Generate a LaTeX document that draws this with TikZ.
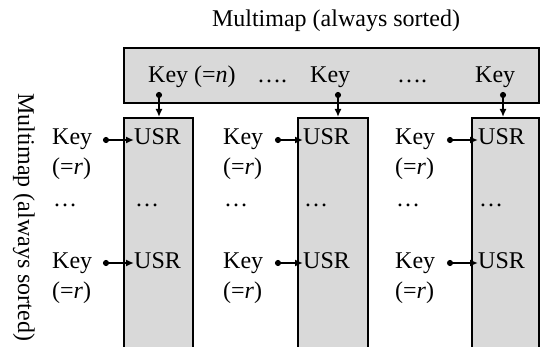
\documentclass[tikz,border=0pt]{standalone}
\usepackage{fontspec}
\setmainfont{Liberation Serif}
\usetikzlibrary{arrows.meta, positioning}

\begin{document}
\begin{tikzpicture}[x=1pt,y=-1pt,every node/.style={font=\fontsize{24}{28}\selectfont,inner sep=0pt}]
  \tikzstyle{box}=[draw,line width=2.2pt,fill={rgb,255:red,217;green,217;blue,217}]
  \tikzstyle{link}=[line width=1.6pt,{Circle[length=6pt]}-{Latex[length=8pt,width=7pt]}]

  \useasboundingbox (0,0) rectangle (540,347);
  \clip (0,0) rectangle (540,347);

  % titles
  \node[anchor=base]            (title) at (336,27)  {Multimap (always sorted)};
  \node[rotate=-90,anchor=base] (side)  at (18,217)  {Multimap (always sorted)};

  % top multimap
  \node[box,minimum width=415pt,minimum height=55pt,anchor=north west] (top) at (123,47) {};
  \node[anchor=base west] (tk1)    at (148,83) {Key (=\textit{n})};
  \node[anchor=base west] (tdots1) at (257,83) {….};
  \node[anchor=base west] (tk2)    at (310,83) {Key};
  \node[anchor=base west] (tdots2) at (397,83) {….};
  \node[anchor=base west] (tk3)    at (475,83) {Key};

  % columns
  \node[box,minimum width=69pt,minimum height=260pt,anchor=north west] (col1) at (123,117) {};
  \node[box,minimum width=70pt,minimum height=260pt,anchor=north west] (col2) at (297,117) {};
  \node[box,minimum width=67pt,minimum height=260pt,anchor=north west] (col3) at (471,117) {};

  \coordinate (tp1) at (159,92);
  \coordinate (tp2) at (338,92);
  \coordinate (tp3) at (503,92);
  \foreach \c in {1,2,3}
    \draw[link] (tp\c) -- (tp\c |- col\c.north);

  % nested multimaps
  \foreach \c/\kx/\ux/\dx in {1/52/134/103, 2/223/303/275, 3/395/478/447} {
    \foreach \r/\ry in {1/145, 2/268} {
      \node[anchor=base west] (k\c\r) at (\kx,\ry)    {Key};
      \node[anchor=base west] (e\c\r) at (\kx,\ry+30) {(=\textit{r})};
      \node[anchor=base west] (u\c\r) at (\ux,\ry)    {USR};
      \coordinate (d\c\r) at (\dx,\ry-5);
      \draw[link] (d\c\r) -- (u\c\r.west |- d\c\r);
    }
    \node[anchor=base west] (kd\c) at (\kx+1,207) {…};
    \node[anchor=base west] (ud\c) at (\ux+1,207) {…};
  }
\end{tikzpicture}
\end{document}
